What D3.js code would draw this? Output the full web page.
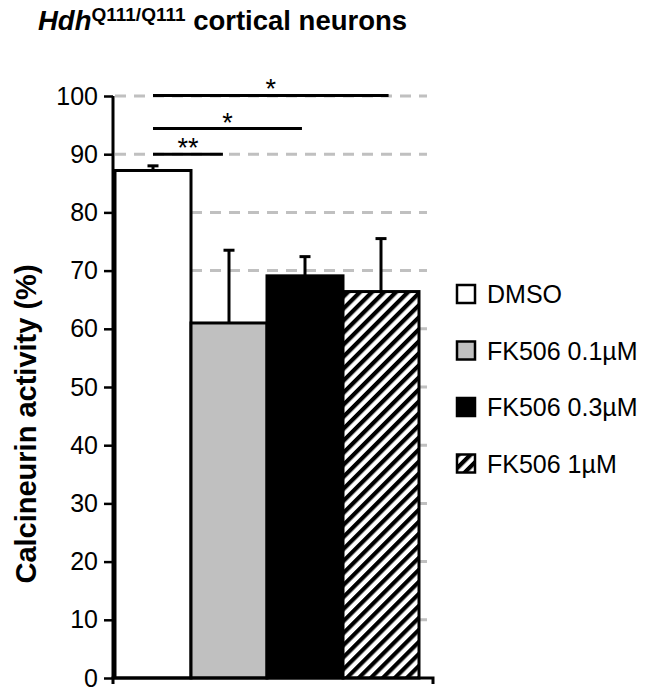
<!DOCTYPE html>
<html lang="en">
<head>
  <meta charset="utf-8">
  <title>Calcineurin activity</title>
  <script src="https://d3js.org/d3.v7.min.js"></script>
  <style>
    body { margin: 0; background: #fff; }
    text { font-family: "Liberation Sans", Arial, sans-serif; }
  </style>
</head>
<body>
  <div id="chart"></div>

  <script>
    var width = 650,
        height = 687;

    // data
    var groups = ["DMSO", "FK506 0.1\u00b5M", "FK506 0.3\u00b5M", "FK506 1\u00b5M"];
    var means = [87.2, 61.0, 69.1, 66.4];
    var errors = [0.8, 12.5, 3.3, 9.1];
    var yTicks = [0, 10, 20, 30, 40, 50, 60, 70, 80, 90, 100];
    var sigLabels = ["**", "*", "*"];
    var sigTo = [1, 2, 3];
    var sigLevel = [90.0, 94.4, 100.1];
    var sigEnd = [0.42, 0.46, 0.6];   // fraction into target bar where line stops

    var svg = d3.select("#chart")
      .append("svg")
      .attr("width", width)
      .attr("height", height);

    var defs = svg.append("defs");
    defs.append("pattern")
      .attr("id", "hatch")
      .attr("patternUnits", "userSpaceOnUse")
      .attr("width", 8.5)
      .attr("height", 8.5)
      .attr("patternTransform", "rotate(45)")
      .call(p => {
        p.append("rect").attr("width", 8.5).attr("height", 8.5).attr("fill", "#fff");
        p.append("rect").attr("width", 4.2).attr("height", 8.5).attr("fill", "#000");
      });

    var fills = ["#ffffff", "#c0c0c0", "#000000", "url(#hatch)"];

    var x = d3.scaleBand()
      .domain(groups)
      .range([115, 419])
      .padding(0);

    var y = d3.scaleLinear()
      .domain([0, 100])
      .range([678, 96]);

    // dashed gridlines
    svg.append("g")
      .selectAll("line")
      .data(yTicks.filter(d => d > 0))
      .enter()
      .append("line")
      .attr("x1", 115)
      .attr("x2", 427)
      .attr("y1", d => y(d))
      .attr("y2", d => y(d))
      .attr("stroke", "#c0c0c0")
      .attr("stroke-width", 3)
      .attr("stroke-dasharray", "11,8");

    // bars
    svg.append("g")
      .selectAll("rect")
      .data(groups)
      .enter()
      .append("rect")
      .attr("x", d => x(d))
      .attr("width", x.bandwidth())
      .attr("y", (d, i) => y(means[i]))
      .attr("height", (d, i) => y(0) - y(means[i]))
      .attr("fill", (d, i) => fills[i])
      .attr("stroke", "#000")
      .attr("stroke-width", 3);

    // error bars (upper only)
    var eb = svg.append("g").attr("stroke", "#000").attr("stroke-width", 3);
    groups.forEach((g, i) => {
      var cx = x(g) + x.bandwidth() / 2;
      eb.append("line")
        .attr("x1", cx).attr("x2", cx)
        .attr("y1", y(means[i])).attr("y2", y(means[i] + errors[i]));
      eb.append("line")
        .attr("x1", cx - 5.5).attr("x2", cx + 5.5)
        .attr("y1", y(means[i] + errors[i])).attr("y2", y(means[i] + errors[i]));
    });

    // y axis
    var yAxis = svg.append("g")
      .attr("transform", "translate(113,0)")
      .call(d3.axisLeft(y).tickValues(yTicks).tickSize(9).tickPadding(6));
    yAxis.select(".domain").attr("stroke-width", 3).attr("d", "M0," + y(0) + "V" + y(100));
    yAxis.selectAll(".tick line").attr("stroke-width", 2.5);
    yAxis.selectAll(".tick text")
      .attr("font-size", 25)
      .attr("font-family", "'Liberation Sans', Arial, sans-serif")
      .attr("fill", "#000");

    // x axis line with end ticks
    svg.append("path")
      .attr("d", "M113," + (y(0) + 6) + "V" + y(0) + "H433V" + (y(0) + 6))
      .attr("fill", "none")
      .attr("stroke", "#000")
      .attr("stroke-width", 3);

    // significance bars
    var sig = svg.append("g");
    sigLabels.forEach((lab, i) => {
      var x1 = x(groups[0]) + x.bandwidth() / 2;
      var x2 = x(groups[sigTo[i]]) + x.bandwidth() * sigEnd[i];
      sig.append("line")
        .attr("x1", x1).attr("x2", x2)
        .attr("y1", y(sigLevel[i])).attr("y2", y(sigLevel[i]))
        .attr("stroke", "#000")
        .attr("stroke-width", 3);
      sig.append("text")
        .attr("x", (x1 + x2) / 2)
        .attr("y", y(sigLevel[i]) + 3)
        .attr("text-anchor", "middle")
        .attr("font-size", 27)
        .text(lab);
    });

    // y label
    svg.append("text")
      .attr("transform", "translate(36,424) rotate(-90)")
      .attr("text-anchor", "middle")
      .attr("font-size", 29)
      .attr("font-weight", "bold")
      .text("Calcineurin activity (%)");

    // title
    var title = svg.append("text")
      .attr("x", 38)
      .attr("y", 30)
      .attr("font-size", 27.5)
      .attr("font-weight", "bold");
    title.append("tspan").attr("font-style", "italic").text("Hdh");
    title.append("tspan").attr("font-size", 19).attr("dy", -9).text("Q111/Q111");
    title.append("tspan").attr("dy", 9).text(" cortical neurons");

    // legend
    var legend = svg.append("g")
      .attr("transform", "translate(457,285)");

    legend.selectAll("rect")
      .data(groups)
      .enter()
      .append("rect")
      .attr("y", (d, i) => i * 56.5)
      .attr("width", 18)
      .attr("height", 18)
      .attr("fill", (d, i) => fills[i])
      .attr("stroke", "#000")
      .attr("stroke-width", 2.5);

    legend.selectAll("text")
      .data(groups)
      .enter()
      .append("text")
      .attr("x", 30)
      .attr("y", (d, i) => i * 56.5 + 18)
      .attr("font-size", 25)
      .text(d => d);
  </script>
</body>
</html>
